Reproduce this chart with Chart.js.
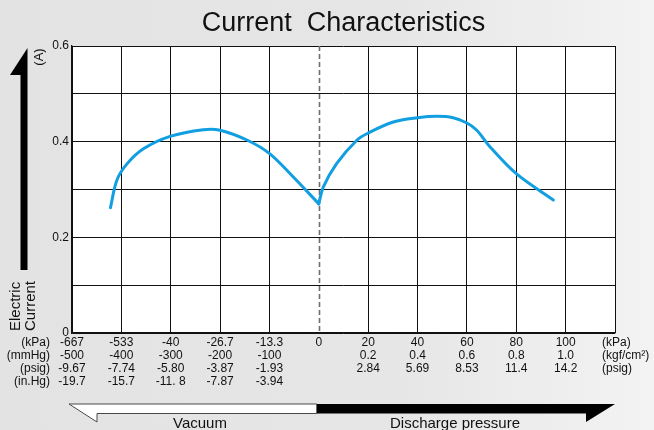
<!DOCTYPE html>
<html>
<head>
<meta charset="utf-8">
<script src="https://cdn.jsdelivr.net/npm/chart.js@4/dist/chart.umd.min.js"></script>
<style>
  html, body { margin: 0; padding: 0; }
  body { width: 654px; height: 430px; overflow: hidden;
         background: linear-gradient(to right, #e3e3e3 0%, #e6e6e6 60%, #f3f3f3 100%); }
  #wrap { position: relative; width: 654px; height: 430px; }
</style>
</head>
<body>
<div id="wrap"><canvas id="c" width="654" height="430"></canvas></div>
<script>
// ---- Data ----
const titleText = 'Current  Characteristics';

// Vacuum side curve: pressure in kPa (negative = vacuum) and current in A
const vacuumKPa     = [-56.3, -54.6, -51.9, -47.4, -40.2, -31.2, -26.7, -19.3, -13.3, -6.9, 0];
const vacuumCurrent = [0.262, 0.319, 0.353, 0.385, 0.411, 0.425, 0.424, 0.403, 0.375, 0.326, 0.270];

// Discharge side curve: pressure in kPa and current in A
const dischargeKPa     = [0, 1.8, 7.2, 15.4, 20, 30.2, 40, 47.8, 54.4, 60, 64, 69.4, 80, 95];
const dischargeCurrent = [0.270, 0.305, 0.354, 0.403, 0.418, 0.441, 0.450, 0.453, 0.450, 0.439, 0.424, 0.389, 0.333, 0.278];

// Tick label rows (one entry per axis division)
const kPaTicks   = ['-667', '-533', '-40', '-26.7', '-13.3', '0', '20', '40', '60', '80', '100'];
const row2Ticks  = ['-500', '-400', '-300', '-200', '-100', '', '0.2', '0.4', '0.6', '0.8', '1.0']; // mmHg | kgf/cm2
const psigTicks  = ['-9.67', '-7.74', '-5.80', '-3.87', '-1.93', '', '2.84', '5.69', '8.53', '11.4', '14.2'];
const inHgTicks  = ['-19.7', '-15.7', '-11. 8', '-7.87', '-3.94', '', '', '', '', '', ''];
const leftUnits  = ['(kPa)', '(mmHg)', '(psig)', '(in.Hg)'];
const rightUnits = ['(kPa)', '(kgf/cm\u00B2)', '(psig)'];
const yTickValues = [0, 0.2, 0.4, 0.6];

// Axis divisions: 5 vacuum divisions of 13.34 kPa, 5 discharge divisions of 20 kPa
const VAC_STEP = 13.34, DIS_STEP = 20, ZERO_POS = 5;
function kPaToPos(k) { return k < 0 ? ZERO_POS + k / VAC_STEP : ZERO_POS + k / DIS_STEP; }

const FONT = "'Liberation Sans', Arial, Helvetica, sans-serif";
const LINE_COLOR = '#119fe2';
const GRID_COLOR = '#111';
const TICK_PAD = 3, TICK_FONT = 12, TICK_LH = 13;

const decorPlugin = {
  id: 'decor',
  beforeDraw(chart) {
    const { ctx, chartArea } = chart;
    ctx.save();
    ctx.fillStyle = '#fff';
    ctx.fillRect(chartArea.left, chartArea.top, chartArea.right - chartArea.left, chartArea.bottom - chartArea.top);
    ctx.restore();
  },
  beforeDatasetsDraw(chart) {
    const { ctx, chartArea } = chart;
    const xs = chart.scales.x;
    const x0 = Math.round(xs.getPixelForValue(ZERO_POS)) + 0.5;
    ctx.save();
    ctx.strokeStyle = '#6e6e6e';
    ctx.lineWidth = 1.6;
    ctx.setLineDash([5, 3]);
    ctx.beginPath();
    ctx.moveTo(x0, chartArea.top);
    ctx.lineTo(x0, chartArea.bottom);
    ctx.stroke();
    ctx.restore();
  },
  afterDraw(chart) {
    const { ctx, chartArea } = chart;
    const xs = chart.scales.x;
    ctx.save();
    ctx.fillStyle = '#111';
    ctx.font = TICK_FONT + 'px ' + FONT;
    ctx.textBaseline = 'middle';
    const baseY = xs.top + TICK_PAD + TICK_LH / 2;
    ctx.textAlign = 'right';
    leftUnits.forEach((t, i) => ctx.fillText(t, chartArea.left - 22, baseY + i * TICK_LH));
    ctx.textAlign = 'left';
    rightUnits.forEach((t, i) => ctx.fillText(t, chartArea.right - 13, baseY + i * TICK_LH));

    // Left vertical arrow
    ctx.fillStyle = '#000';
    ctx.beginPath();
    ctx.moveTo(27.5, 48);
    ctx.lineTo(10, 75);
    ctx.lineTo(20.5, 75);
    ctx.lineTo(20.5, 270);
    ctx.lineTo(27.5, 270);
    ctx.closePath();
    ctx.fill();

    // Rotated texts
    ctx.fillStyle = '#111';
    ctx.save();
    ctx.translate(39, 57);
    ctx.rotate(-Math.PI / 2);
    ctx.font = '13px ' + FONT;
    ctx.textAlign = 'center';
    ctx.textBaseline = 'middle';
    ctx.fillText('(A)', 0, 0);
    ctx.restore();

    ctx.save();
    ctx.translate(0, 331);
    ctx.rotate(-Math.PI / 2);
    ctx.font = '15px ' + FONT;
    ctx.textAlign = 'left';
    ctx.textBaseline = 'middle';
    ctx.fillText('Electric', 0, 15.5);
    ctx.fillText('Current', 0, 31);
    ctx.restore();

    // Bottom arrows
    const xl = chartArea.left - 3, xr = chartArea.right, xm = xs.getPixelForValue(ZERO_POS) - 2;
    const yt = 404, yb = 413.5, yp = 422;
    ctx.beginPath();
    ctx.moveTo(xl, yt);
    ctx.lineTo(xm, yt);
    ctx.lineTo(xm, yb);
    ctx.lineTo(xl + 28, yb);
    ctx.lineTo(xl + 28, yp);
    ctx.closePath();
    ctx.fillStyle = '#fff';
    ctx.fill();
    ctx.strokeStyle = '#4a4a4a';
    ctx.lineWidth = 1;
    ctx.stroke();

    ctx.beginPath();
    ctx.moveTo(xm, yt);
    ctx.lineTo(xr, yt);
    ctx.lineTo(xr - 29, yp);
    ctx.lineTo(xr - 29, yb);
    ctx.lineTo(xm, yb);
    ctx.closePath();
    ctx.fillStyle = '#000';
    ctx.fill();

    ctx.fillStyle = '#111';
    ctx.font = '15px ' + FONT;
    ctx.textAlign = 'center';
    ctx.textBaseline = 'alphabetic';
    ctx.fillText('Vacuum', 200, 428);
    ctx.fillText('Discharge pressure', 455, 428);
    ctx.restore();
  }
};

const toPoints = (ks, vs) => ks.map((k, i) => ({ x: kPaToPos(k), y: vs[i] }));

new Chart(document.getElementById('c'), {
  type: 'line',
  data: {
    datasets: [
      { label: 'Vacuum', data: toPoints(vacuumKPa, vacuumCurrent) },
      { label: 'Discharge', data: toPoints(dischargeKPa, dischargeCurrent) }
    ]
  },
  options: {
    responsive: false,
    animation: false,
    devicePixelRatio: 1,
    layout: { padding: { left: 0, right: 39, top: 0, bottom: 0 } },
    elements: {
      line: { borderColor: LINE_COLOR, borderWidth: 3, tension: 0.35, fill: false, borderCapStyle: 'round', borderJoinStyle: 'round' },
      point: { radius: 0 }
    },
    plugins: {
      legend: { display: false },
      tooltip: { enabled: false },
      title: {
        display: true, text: titleText, fullSize: false, color: '#111',
        font: { family: FONT, size: 27, weight: 'normal', lineHeight: 1.15 },
        padding: { top: 8, bottom: 6.95 }
      }
    },
    scales: {
      x: {
        type: 'linear', min: 0, max: 11,
        afterFit(s) { s.height = 97; },
        grid: {
          drawTicks: false,
          color: c => (c.tick && c.tick.value === ZERO_POS) ? 'rgba(0,0,0,0)' : GRID_COLOR,
          lineWidth: 1
        },
        border: { display: true, color: GRID_COLOR, width: 1.3 },
        ticks: {
          stepSize: 1, autoSkip: false, maxRotation: 0, padding: TICK_PAD, color: '#111',
          font: { family: FONT, size: TICK_FONT, lineHeight: TICK_LH / TICK_FONT },
          callback(v) {
            const i = Math.round(v);
            if (i < 0 || i >= kPaTicks.length) return '';
            return [kPaTicks[i], row2Ticks[i], psigTicks[i], inHgTicks[i]];
          }
        }
      },
      y: {
        type: 'linear', min: 0, max: 0.6,
        afterFit(s) { s.width = 72; },
        grid: { drawTicks: false, color: GRID_COLOR, lineWidth: 1 },
        border: { display: true, color: GRID_COLOR, width: 1.3 },
        ticks: {
          stepSize: 0.1, padding: 3, color: '#111',
          font: { family: FONT, size: TICK_FONT },
          callback(v) {
            const r = Math.round(v * 10) / 10;
            return yTickValues.some(t => Math.abs(t - r) < 1e-9) ? String(r) : '';
          }
        }
      }
    }
  },
  plugins: [decorPlugin]
});
</script>
</body>
</html>
